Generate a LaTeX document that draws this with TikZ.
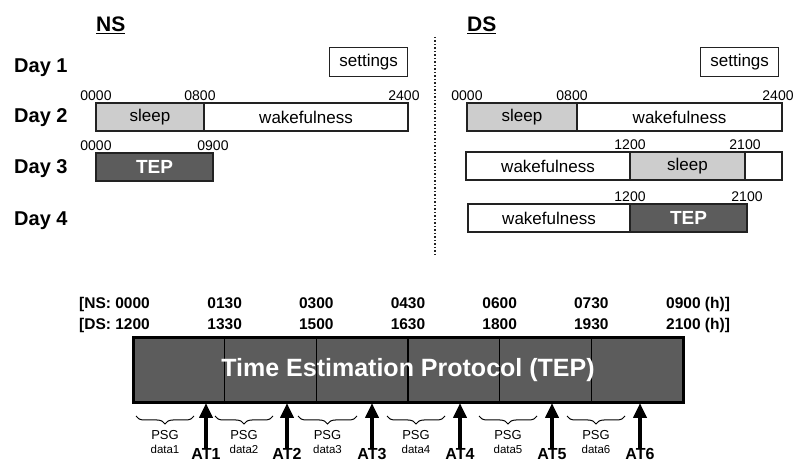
\documentclass[tikz,border=0pt]{standalone}
\usepackage{fontspec}
\setmainfont{Liberation Sans}
\usetikzlibrary{arrows.meta,positioning,calc,decorations.pathreplacing}

\definecolor{sleepgray}{HTML}{CDCDCD}
\definecolor{tepgray}{HTML}{5C5C5C}
\definecolor{barline}{HTML}{222222}

\begin{document}
\begin{tikzpicture}[
  x=1pt, y=-1pt,
  font=\fontsize{17}{20}\selectfont,
  head/.style={font=\bfseries\fontsize{21}{24}\selectfont, anchor=base west, inner sep=0pt},
  day/.style={font=\bfseries\fontsize{20}{24}\selectfont, anchor=base west, inner sep=0pt},
  seg/.style={draw=barline, line width=1.3pt, rectangle, minimum height=28pt, inner sep=0pt, outer sep=0pt},
  sleepseg/.style={seg, fill=sleepgray},
  tepseg/.style={seg, fill=tepgray, text=white, font=\bfseries\fontsize{19}{22}\selectfont},
  tick/.style={font=\fontsize{14}{16}\selectfont, inner sep=0pt},
  setbox/.style={draw=barline, line width=1.3pt, rectangle, minimum width=78pt, minimum height=29pt, inner sep=0pt},
  protocol/.style={draw=black, line width=3pt, fill=tepgray, rectangle, inner sep=0pt, outer sep=0pt},
  hour/.style={font=\bfseries\fontsize{15.5}{18}\selectfont, inner sep=0pt},
  psg/.style={font=\fontsize{13}{15}\selectfont, inner sep=0pt, anchor=base},
  psgdata/.style={font=\fontsize{11.5}{13}\selectfont, inner sep=0pt, anchor=base},
  atlabel/.style={font=\bfseries\fontsize{16}{18}\selectfont, inner sep=0pt, anchor=base},
  atarrow/.style={-{Triangle[length=15pt, width=13pt]}, line width=4.5pt},
  psgbrace/.style={decorate, decoration={brace, mirror, amplitude=8pt}, line width=1pt},
]
  \useasboundingbox (0,0) rectangle (796,462);

  % headers and day labels
  \node[head] (nshead) at (96,32) {\underline{NS}};
  \node[head] (dshead) at (467,32) {\underline{DS}};
  \node[day] (day1) at (14,73) {Day 1};
  \node[day] (day2) at (14,123) {Day 2};
  \node[day] (day3) at (14,174) {Day 3};
  \node[day] (day4) at (14,226) {Day 4};
  \draw[barline, line width=1.5pt, dotted] (435,37) -- (435,255);

  % NS schedule
  \node[setbox, anchor=north west] (nsset) at (329,47) {settings};
  \node[sleepseg, minimum width=108pt, anchor=north west] (ns2sleep) at (96,103) {sleep};
  \node[seg, minimum width=204pt, right=0pt of ns2sleep] (ns2wake) {wakefulness};
  \node[tick, above=2pt of ns2sleep.north west] (ns2t0) {0000};
  \node[tick, above=2pt of ns2sleep.north east, xshift=-4pt] (ns2t8) {0800};
  \node[tick, above=2pt of ns2wake.north east, xshift=-4pt] (ns2t24) {2400};
  \node[tepseg, minimum width=117pt, anchor=north west] (ns3tep) at (96,153) {TEP};
  \node[tick, above=2pt of ns3tep.north west] (ns3t0) {0000};
  \node[tick, above=2pt of ns3tep.north east] (ns3t9) {0900};

  % DS schedule
  \node[setbox, anchor=north west] (dsset) at (700,47) {settings};
  \node[sleepseg, minimum width=110pt, anchor=north west] (ds2sleep) at (467,103) {sleep};
  \node[seg, minimum width=205pt, right=0pt of ds2sleep] (ds2wake) {wakefulness};
  \node[tick, above=2pt of ds2sleep.north west] (ds2t0) {0000};
  \node[tick, above=2pt of ds2sleep.north east, xshift=-5pt] (ds2t8) {0800};
  \node[tick, above=2pt of ds2wake.north east, xshift=-4pt] (ds2t24) {2400};
  \node[seg, minimum width=164pt, anchor=north west] (ds3wake) at (466,152) {wakefulness};
  \node[sleepseg, minimum width=115pt, right=0pt of ds3wake] (ds3sleep) {sleep};
  \node[seg, minimum width=37pt, right=0pt of ds3sleep] (ds3rest) {};
  \node[tick, above=2pt of ds3sleep.north west] (ds3t12) {1200};
  \node[tick, above=2pt of ds3sleep.north east] (ds3t21) {2100};
  \node[seg, minimum width=162pt, anchor=north west] (ds4wake) at (468,204) {wakefulness};
  \node[tepseg, minimum width=117pt, right=0pt of ds4wake] (ds4tep) {TEP};
  \node[tick, above=2pt of ds4tep.north west] (ds4t12) {1200};
  \node[tick, above=2pt of ds4tep.north east] (ds4t21) {2100};

  % protocol
  \node[protocol, minimum width=550pt, minimum height=65pt, anchor=north west] (tep) at (133,338) {};
  \foreach \i in {1,...,5}
    \draw[line width=1.5pt] ($(tep.north west)!\i/6!(tep.north east)$) -- ($(tep.south west)!\i/6!(tep.south east)$);
  \node[font=\bfseries\fontsize{25}{28}\selectfont, text=white] (teptitle) at (tep.center) {Time Estimation Protocol (TEP)};

  \node[hour, anchor=base east] (ns0) at (150,309) {[NS: 0000};
  \node[hour, anchor=base east] (ds0) at (150,330) {[DS: 1200};
  \foreach \i/\nst/\dst in {1/0130/1330, 2/0300/1500, 3/0430/1630, 4/0600/1800, 5/0730/1930} {
    \node[hour, anchor=base] (ns\i) at ({133+\i*91.667},309) {\nst};
    \node[hour, anchor=base] (ds\i) at ({133+\i*91.667},330) {\dst};
  }
  \node[hour, anchor=base west] (ns6) at (666,309) {0900 (h)]};
  \node[hour, anchor=base west] (ds6) at (666,330) {2100 (h)]};

  \foreach \i/\a/\b in {1/136/194, 2/215/273, 3/298/357, 4/387/445, 5/479/537, 6/567/625} {
    \draw[psgbrace] (\a,416) -- (\b,416);
    \node[psg] (psg\i) at ({(\a+\b)/2},440) {PSG};
    \node[psgdata] (data\i) at ({(\a+\b)/2},454) {data\i};
  }

  \foreach \i/\x in {1/206, 2/287, 3/372, 4/460, 5/552, 6/640} {
    \node[atlabel] (at\i) at (\x,459.5) {AT\i};
    \draw[atarrow] (at\i.north) -- (at\i.north |- tep.south);
  }
\end{tikzpicture}
\end{document}
